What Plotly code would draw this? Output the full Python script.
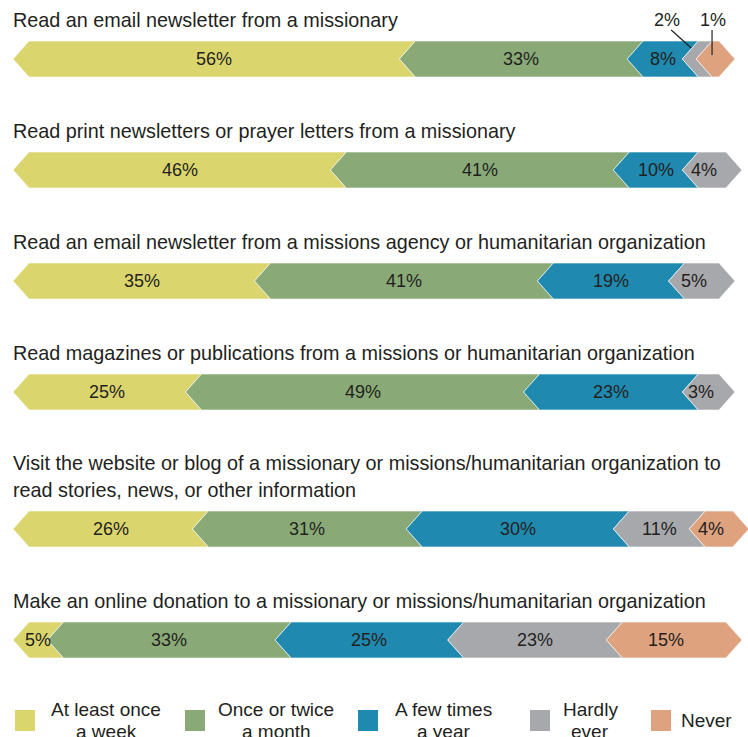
import plotly.graph_objects as go

# ---- data ----
questions = [
    "Read an email newsletter from a missionary",
    "Read print newsletters or prayer letters from a missionary",
    "Read an email newsletter from a missions agency or humanitarian organization",
    "Read magazines or publications from a missions or humanitarian organization",
    "Visit the website or blog of a missionary or missions/humanitarian organization to<br>read stories, news, or other information",
    "Make an online donation to a missionary or missions/humanitarian organization",
]
categories = ["At least once a week", "Once or twice a month", "A few times a year", "Hardly ever", "Never"]
legend_labels = ["At least once<br>a week", "Once or twice<br>a month", "A few times<br>a year", "Hardly<br>ever", "Never"]
at_least_weekly = [56, 46, 35, 25, 26, 5]
monthly = [33, 41, 41, 49, 31, 33]
few_times_year = [8, 10, 19, 23, 30, 25]
hardly_ever = [2, 4, 5, 3, 11, 23]
never = [1, 0, 0, 0, 4, 15]
series = [at_least_weekly, monthly, few_times_year, hardly_ever, never]

# ---- style ----
colors = ["#dbd56e", "#89aa77", "#1f89b0", "#a7a8ac", "#dea27f"]
text_color = "#231f20"
FONT = "Liberation Sans"
W, H = 748, 737
PX_PER_PCT = 6.9
X0_PX = 29
D = 16 / PX_PER_PCT          # chevron depth in % units
HALF = 18                    # half bar height (px units on y axis)
ROW0, STEP, EXTRA = 59, 111, 26


def px(p):
    return p / PX_PER_PCT


fig = go.Figure()
annotations = []
shapes = []

extra = 0
for r, q in enumerate(questions):
    lines = q.split("<br>")
    extra += len(lines) - 1
    cy = ROW0 + STEP * r + EXTRA * extra
    # title lines
    for k, ln in enumerate(lines):
        yb = cy - HALF - 8 - 27 * (len(lines) - 1 - k)
        annotations.append(dict(x=px(13 - X0_PX) - 0.3, y=yb, xref="x", yref="y", text=ln, showarrow=False,
                                xanchor="left", yanchor="bottom",
                                font=dict(family=FONT, size=19.8, color=text_color)))
    vals = [s[r] for s in series]
    nseg = max(i for i, v in enumerate(vals) if v > 0)
    cum = 0
    for i, v in enumerate(vals):
        if v <= 0:
            continue
        a, b = cum, cum + v
        cum = b
        top, bot = cy - HALF, cy + HALF
        if i == nseg:
            xs = [a, b, b + D, b, a, a - D, a]
        else:
            xs = [a, b, b - D, b, a, a - D, a]
        ys = [top, top, cy, bot, bot, cy, top]
        fig.add_trace(go.Scatter(x=xs, y=ys, mode="lines", fill="toself", fillcolor=colors[i],
                                 line=dict(color="white", width=0.6), hoverinfo="skip",
                                 showlegend=False))
        mid = (a + b) / 2 - D / 2
        if v >= 3:
            annotations.append(dict(x=mid, y=cy, xref="x", yref="y", text=f"{v}%", showarrow=False,
                                    font=dict(family=FONT, size=18, color=text_color)))
        else:
            # small segment: label above with leader line
            if v == 2:
                lx, l0, l1 = mid + px(-30), mid + px(-26), mid + px(-6)
                ly1 = cy - 11
            else:
                lx, l0, l1 = mid + px(5), mid + px(4.5), mid + px(4.5)
                ly1 = cy - 4
            annotations.append(dict(x=lx, y=top - 21, xref="x", yref="y", text=f"{v}%", showarrow=False,
                                    font=dict(family=FONT, size=18, color=text_color)))
            shapes.append(dict(type="line", xref="x", yref="y",
                               x0=l0, y0=top - 11, x1=l1, y1=ly1,
                               line=dict(color="#231f20", width=1.2)))

# ---- legend ----
leg_box_x = [15, 185, 358, 530, 651]
leg_text_x = [106, 276, 443, 590, 706]
for i, lab in enumerate(legend_labels):
    shapes.append(dict(type="rect", xref="x", yref="y",
                       x0=px(leg_box_x[i] - X0_PX), x1=px(leg_box_x[i] + 20 - X0_PX),
                       y0=710, y1=731, fillcolor=colors[i], line=dict(width=0)))
    parts = lab.split("<br>")
    for k, p in enumerate(parts):
        yc = 720 if len(parts) == 1 else 709 + 22 * k
        annotations.append(dict(x=px(leg_text_x[i] - X0_PX), y=yc, xref="x", yref="y",
                                text=p, showarrow=False, xanchor="center", yanchor="middle",
                                font=dict(family=FONT, size=19, color=text_color)))

fig.update_layout(
    width=W, height=H, margin=dict(l=0, r=0, t=0, b=0),
    paper_bgcolor="white", plot_bgcolor="white",
    xaxis=dict(range=[px(-X0_PX), px(W - X0_PX)], visible=False, fixedrange=True),
    yaxis=dict(range=[H, 0], visible=False, fixedrange=True),
    annotations=annotations, shapes=shapes, showlegend=False,
)
fig.write_html("out.html", config={"displayModeBar": False},
               post_script="document.body.style.margin='0';document.body.style.overflow='hidden';")
